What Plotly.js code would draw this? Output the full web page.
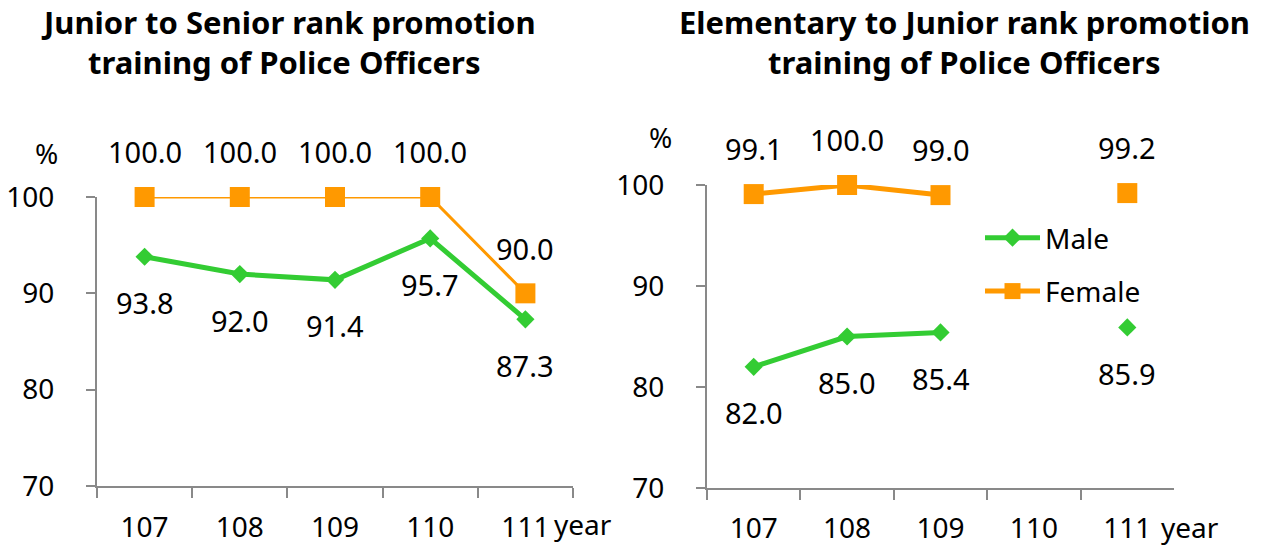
<!DOCTYPE html>
<html>
<head>
<meta charset="utf-8">
<script src="https://cdn.plot.ly/plotly-3.0.1.min.js"></script>
<style>html,body{margin:0;padding:0;background:#fff;}#chart{width:1263px;height:547px;}</style>
</head>
<body>
<div id="chart"></div>
<script>
// ---- data ----
const years = ['107', '108', '109', '110', '111'];
const leftMale = [93.8, 92.0, 91.4, 95.7, 87.3];
const leftFemale = [100.0, 100.0, 100.0, 100.0, 90.0];
const rightMale = [82.0, 85.0, 85.4, null, 85.9];
const rightFemale = [99.1, 100.0, 99.0, null, 99.2];
const seriesNames = ['Male', 'Female'];
const leftTitle = ['Junior to Senior rank promotion', 'training of Police Officers'];
const rightTitle = ['Elementary to Junior rank promotion', 'training of Police Officers'];
const unitLabel = '%';
const xUnitLabel = 'year';

// ---- styles ----
const W = 1263, H = 547;
const GREEN = '#33CC33', ORANGE = '#FF9900', AXIS = '#898989';
const tickFont = {family: 'Noto Sans, sans-serif', size: 28, color: '#000'};
const labelFont = {family: 'Noto Sans, sans-serif', size: 29, color: '#000'};
const titleFont = {family: 'Noto Sans, sans-serif', size: 31, color: '#000', weight: 'bold'};
const px = v => v / W;
const py = v => 1 - v / H;

function tr(y, name, xa, ya, color, sym, size, lw, show) {
  return {
    type: 'scatter', mode: 'lines+markers', x: years, y: y, name: name,
    xaxis: xa, yaxis: ya, cliponaxis: false, connectgaps: false,
    line: {color: color, width: lw},
    marker: {symbol: sym, size: size, color: color},
    showlegend: show, legendgroup: name, hoverinfo: 'skip'
  };
}

const data = [
  tr(leftMale, seriesNames[0], 'x', 'y', GREEN, 'diamond', 14, 5, false),
  tr(leftFemale, seriesNames[1], 'x', 'y', ORANGE, 'square', 20, 3, false),
  tr(rightMale, seriesNames[0], 'x2', 'y2', GREEN, 'diamond', 14, 5, true),
  tr(rightFemale, seriesNames[1], 'x2', 'y2', ORANGE, 'square', 20, 5, true)
];

const annotations = [];
function addLabels(vals, xr, yr, shift) {
  vals.forEach((v, i) => {
    if (v === null) return;
    // category axes: annotation x is the category index
    annotations.push({xref: xr, yref: yr, x: i, y: v, text: v.toFixed(1),
      showarrow: false, yshift: shift, font: labelFont});
  });
}
addLabels(leftMale, 'x', 'y', -46);
addLabels(leftFemale, 'x', 'y', 45);
addLabels(rightMale, 'x2', 'y2', -46);
addLabels(rightFemale, 'x2', 'y2', 46);

function paperText(text, x, y, font) {
  annotations.push({xref: 'paper', yref: 'paper', x: px(x), y: py(y), text: text,
    showarrow: false, xanchor: 'center', yanchor: 'middle', font: font});
}
paperText(leftTitle[0], 288, 22, titleFont);
paperText(leftTitle[1], 284, 62, titleFont);
paperText(rightTitle[0], 964, 22, titleFont);
paperText(rightTitle[1], 964, 62, titleFont);
paperText(unitLabel, 47, 153, tickFont);
paperText(unitLabel, 660, 137, tickFont);
paperText(xUnitLabel, 583, 524, tickFont);
paperText(xUnitLabel, 1190, 527, tickFont);

const xBase = {type: 'category', range: [-0.5, 4.5], showline: true, linecolor: AXIS, linewidth: 2,
  ticks: 'outside', tickson: 'boundaries', ticklen: 10, tickwidth: 2, tickcolor: AXIS, tickangle: 0,
  showgrid: false, zeroline: false, tickfont: tickFont, fixedrange: true};
const yBase = {range: [70, 100], dtick: 10, tick0: 70, showline: true, linecolor: AXIS, linewidth: 2,
  ticks: 'outside', ticklen: 9, tickwidth: 2, tickcolor: AXIS,
  showgrid: false, zeroline: false, tickfont: tickFont, ticklabelstandoff: 26, fixedrange: true};

const layout = {
  width: W, height: H,
  margin: {l: 0, r: 0, t: 0, b: 0},
  paper_bgcolor: '#fff', plot_bgcolor: 'rgba(0,0,0,0)',
  xaxis: Object.assign({}, xBase, {domain: [px(97), px(573)], anchor: 'y', ticklabelstandoff: 15}),
  yaxis: Object.assign({}, yBase, {domain: [py(486), py(197)], anchor: 'x'}),
  xaxis2: Object.assign({}, xBase, {domain: [px(707), px(1174)], anchor: 'y2', ticklabelstandoff: 14}),
  yaxis2: Object.assign({}, yBase, {domain: [py(488), py(185)], anchor: 'x2'}),
  showlegend: true,
  legend: {x: px(980), y: py(213), xanchor: 'left', yanchor: 'top',
    bgcolor: 'rgba(0,0,0,0)', font: tickFont, traceorder: 'grouped', tracegroupgap: 14,
    itemwidth: 55},
  annotations: annotations
};

Plotly.newPlot('chart', data, layout, {displayModeBar: false, staticPlot: true});
</script>
</body>
</html>
